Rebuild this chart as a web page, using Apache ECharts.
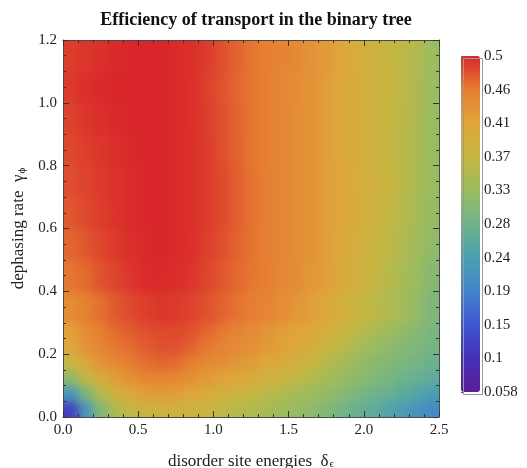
<!DOCTYPE html>
<html><head><meta charset="utf-8">
<script src="https://cdn.jsdelivr.net/npm/echarts@6/dist/echarts.min.js"></script>
<style>
html,body{margin:0;padding:0;background:#fff}
#wrap{position:relative;width:527px;height:468px}
#clip{position:absolute;left:63px;top:40px;width:376px;height:377px;overflow:hidden}
#heat{position:absolute;left:-63px;top:-40px;width:527px;height:468px;filter:blur(5px)}
#c{position:absolute;left:0;top:0;width:527px;height:468px}
</style>
</head><body><div id="wrap"><div id="clip"><div id="heat"></div></div><div id="c"></div></div>
<script>
// bin edges of the efficiency map
const xEdges = [0,0.1,0.2,0.3,0.4,0.5,0.6,0.7,0.8,0.9,1.0,1.1,1.2,1.3,1.4,1.5,1.6,1.7,1.8,1.9,2.0,2.1,2.2,2.3,2.4,2.5];
const yEdges = [0,0.05,0.1,0.15,0.2,0.25,0.3,0.4,0.5,0.6,0.7,0.8,0.9,1.0,1.1,1.2];
// efficiency values, one row per y-bin (bottom to top), one value per x-bin
const row00 = [0.12,0.22,0.30,0.34,0.365,0.375,0.38,0.38,0.378,0.372,0.362,0.352,0.345,0.335,0.328,0.318,0.31,0.298,0.285,0.272,0.26,0.245,0.23,0.215,0.20];
const row01 = [0.22,0.29,0.345,0.38,0.405,0.418,0.422,0.418,0.408,0.395,0.385,0.375,0.367,0.355,0.345,0.335,0.325,0.315,0.303,0.29,0.28,0.27,0.258,0.245,0.23];
const row02 = [0.31,0.36,0.395,0.42,0.435,0.445,0.448,0.445,0.435,0.425,0.415,0.405,0.395,0.383,0.372,0.36,0.348,0.335,0.322,0.31,0.30,0.29,0.28,0.27,0.26];
const row03 = [0.37,0.405,0.43,0.443,0.455,0.463,0.468,0.465,0.455,0.443,0.438,0.428,0.42,0.408,0.398,0.385,0.37,0.352,0.337,0.322,0.308,0.30,0.292,0.285,0.275];
const row04 = [0.405,0.432,0.447,0.458,0.465,0.472,0.478,0.478,0.47,0.458,0.45,0.442,0.435,0.425,0.416,0.405,0.395,0.375,0.358,0.34,0.325,0.313,0.302,0.295,0.285];
const row05 = [0.415,0.44,0.455,0.465,0.472,0.478,0.482,0.482,0.478,0.468,0.458,0.448,0.44,0.43,0.42,0.412,0.405,0.39,0.372,0.355,0.34,0.328,0.315,0.303,0.29];
const row06 = [0.44,0.45,0.463,0.474,0.482,0.488,0.492,0.49,0.486,0.478,0.47,0.462,0.455,0.448,0.438,0.428,0.418,0.405,0.39,0.375,0.36,0.347,0.333,0.315,0.295];
const row07 = [0.46,0.465,0.477,0.485,0.492,0.497,0.498,0.496,0.492,0.485,0.476,0.467,0.459,0.452,0.445,0.437,0.428,0.418,0.40,0.385,0.37,0.355,0.34,0.322,0.303];
const row08 = [0.468,0.475,0.484,0.49,0.495,0.498,0.5,0.498,0.495,0.488,0.48,0.47,0.461,0.453,0.446,0.438,0.43,0.42,0.405,0.39,0.375,0.362,0.346,0.33,0.312];
const row09 = [0.475,0.482,0.488,0.493,0.497,0.5,0.5,0.498,0.495,0.49,0.482,0.472,0.462,0.453,0.446,0.438,0.43,0.42,0.408,0.395,0.382,0.368,0.353,0.336,0.318];
const row10 = [0.48,0.485,0.49,0.494,0.497,0.5,0.5,0.498,0.495,0.49,0.482,0.472,0.462,0.453,0.446,0.438,0.43,0.42,0.408,0.397,0.385,0.372,0.357,0.34,0.322];
const row11 = [0.482,0.488,0.492,0.495,0.498,0.5,0.5,0.498,0.495,0.49,0.48,0.47,0.46,0.452,0.446,0.438,0.43,0.42,0.407,0.395,0.383,0.371,0.357,0.34,0.321];
const row12 = [0.486,0.492,0.495,0.498,0.5,0.5,0.5,0.498,0.495,0.489,0.479,0.469,0.46,0.452,0.446,0.438,0.43,0.42,0.407,0.395,0.383,0.371,0.358,0.342,0.322];
const row13 = [0.49,0.495,0.498,0.5,0.5,0.5,0.5,0.498,0.495,0.488,0.478,0.468,0.46,0.452,0.446,0.439,0.43,0.42,0.407,0.395,0.384,0.372,0.359,0.343,0.323];
const row14 = [0.488,0.492,0.495,0.498,0.5,0.5,0.5,0.498,0.495,0.49,0.48,0.47,0.46,0.453,0.448,0.442,0.433,0.424,0.408,0.393,0.382,0.371,0.36,0.346,0.325];
const rows = [row00,row01,row02,row03,row04,row05,row06,row07,row08,row09,row10,row11,row12,row13,row14];
// colour bar
const cbMin = 0.058, cbMax = 0.5;
const cbLabels = ['0.058','0.1','0.15','0.19','0.24','0.28','0.33','0.37','0.41','0.46','0.5'];
const xTickLabels = ['0.0','0.5','1.0','1.5','2.0','2.5'];
const yTickLabels = ['0.0','0.2','0.4','0.6','0.8','1.0','1.2'];
const rainbow = ['#5a1e9a','#4530b5','#3e55d1','#4383cc','#4ba0b0','#6fb38a','#9bbc5f','#c6b641','#e0a53b','#e67d32','#d9262a'];

const cells = [];
rows.forEach((r, i) => r.forEach((v, j) => cells.push([xEdges[j], xEdges[j+1], yEdges[i], yEdges[i+1], v])));
const xLo = xEdges[0], xHi = xEdges[xEdges.length - 1], yLo = yEdges[0], yHi = yEdges[yEdges.length - 1];

const FONT = '"Liberation Serif", "DejaVu Serif", serif';
const frameColor = '#4a4a4a';
const gridMain = { left: 63, top: 40, width: 376, height: 377, outerBoundsMode: 'none', containLabel: false };
const visualCommon = { type: 'continuous', min: cbMin, max: cbMax, dimension: 4, seriesIndex: 0, inRange: { color: rainbow } };

// ---- smooth colour field (blurred layer beneath the frame) ----
const heat = echarts.init(document.getElementById('heat'), null, { renderer: 'canvas' });
heat.setOption({
  animation: false,
  grid: gridMain,
  xAxis: { type: 'value', min: xLo, max: xHi, show: false },
  yAxis: { type: 'value', min: yLo, max: yHi, show: false },
  visualMap: Object.assign({ show: false }, visualCommon),
  series: [{
    type: 'custom', clip: false, data: cells,
    encode: { x: [0, 1], y: [2, 3] },
    renderItem: (params, api) => {
      const p0 = api.coord([api.value(0), api.value(2)]);
      const p1 = api.coord([api.value(1), api.value(3)]);
      // edge cells are stretched outward so the blur does not fade at the frame
      const pad = 14;
      let x0 = p0[0], x1 = p1[0], yb = p0[1], yt = p1[1];
      if (api.value(0) === xLo) x0 -= pad;
      if (api.value(1) === xHi) x1 += pad;
      if (api.value(2) === yLo) yb += pad;
      if (api.value(3) === yHi) yt -= pad;
      return { type: 'rect', shape: { x: x0, y: yt, width: x1 - x0 + 0.7, height: yb - yt + 0.7 },
        style: { fill: api.visual('color') } };
    }
  }]
});

// ---- frame, axes, title, colour bar ----
function frameAxis(extra) {
  return Object.assign({
    type: 'value', gridIndex: 0,
    axisLine: { show: true, onZero: false, lineStyle: { color: frameColor, width: 1 } },
    axisTick: { show: true, inside: true, length: 6, lineStyle: { color: '#333', width: 1 } },
    splitLine: { show: false }, minorSplitLine: { show: false },
    axisLabel: { show: false }
  }, extra);
}
const labelStyle = { show: true, fontFamily: FONT, fontSize: 15, color: '#222', margin: 6 };
const nameRich = {
  t: { fontFamily: FONT, fontSize: 17, color: '#222', lineHeight: 22, verticalAlign: 'bottom' },
  s: { fontFamily: FONT, fontSize: 11, color: '#222', lineHeight: 12, verticalAlign: 'bottom', padding: [0, 0, 0, 1] }
};

const chart = echarts.init(document.getElementById('c'), null, { renderer: 'canvas' });
chart.setOption({
  backgroundColor: 'transparent',
  animation: false,
  title: {
    text: 'Efficiency of transport in the binary tree',
    left: 251, top: 6, textAlign: 'center',
    textStyle: { fontFamily: FONT, fontSize: 18, fontWeight: 'bold', color: '#111' }
  },
  grid: [
    gridMain,
    { left: 461, top: 56, width: 19, height: 336, outerBoundsMode: 'none', containLabel: false }
  ],
  xAxis: [
    frameAxis({ position: 'bottom', min: xLo, max: xHi, interval: 0.5,
      minorTick: { show: true, splitNumber: 5, length: 3, lineStyle: { color: '#333' } },
      axisLabel: Object.assign({}, labelStyle, { formatter: v => xTickLabels[Math.round(v / 0.5)] }),
      name: '{t|disorder site energies  δ}{s|ϵ}', nameLocation: 'middle', nameGap: 31,
      nameTextStyle: { rich: nameRich } }),
    frameAxis({ position: 'top', min: xLo, max: xHi, interval: 0.5,
      minorTick: { show: true, splitNumber: 5, length: 3, lineStyle: { color: '#333' } } }),
    { type: 'value', gridIndex: 1, show: false, min: 0, max: 1 }
  ],
  yAxis: [
    frameAxis({ position: 'left', min: yLo, max: yHi, interval: 0.2,
      minorTick: { show: true, splitNumber: 4, length: 3, lineStyle: { color: '#333' } },
      axisLabel: Object.assign({}, labelStyle, { formatter: v => yTickLabels[Math.round(v / 0.2)] }),
      name: '{t|dephasing rate  γ}{s|ϕ}', nameLocation: 'middle', nameGap: 33,
      nameTextStyle: { rich: nameRich } }),
    frameAxis({ position: 'right', min: yLo, max: yHi, interval: 0.2,
      minorTick: { show: true, splitNumber: 4, length: 3, lineStyle: { color: '#333' } } }),
    { type: 'value', gridIndex: 1, position: 'right', min: 0, max: 10, interval: 1,
      axisLine: { show: false }, splitLine: { show: false },
      axisTick: { show: true, inside: false, length: 3, lineStyle: { color: '#555' } },
      axisLabel: { fontFamily: FONT, fontSize: 15, color: '#222', margin: 4, formatter: v => cbLabels[Math.round(v)] } }
  ],
  visualMap: Object.assign({
    calculable: false, hoverLink: false, showLabel: false, text: null,
    left: 461, top: 56, itemWidth: 19, itemHeight: 336, padding: 0
  }, visualCommon, { seriesIndex: [] }),
  graphic: [{ type: 'rect', left: 461, top: 56, z: 100, silent: true,
    shape: { width: 19, height: 336 }, style: { fill: 'none', stroke: '#999', lineWidth: 1 } }],
  series: []
});
</script></body></html>
